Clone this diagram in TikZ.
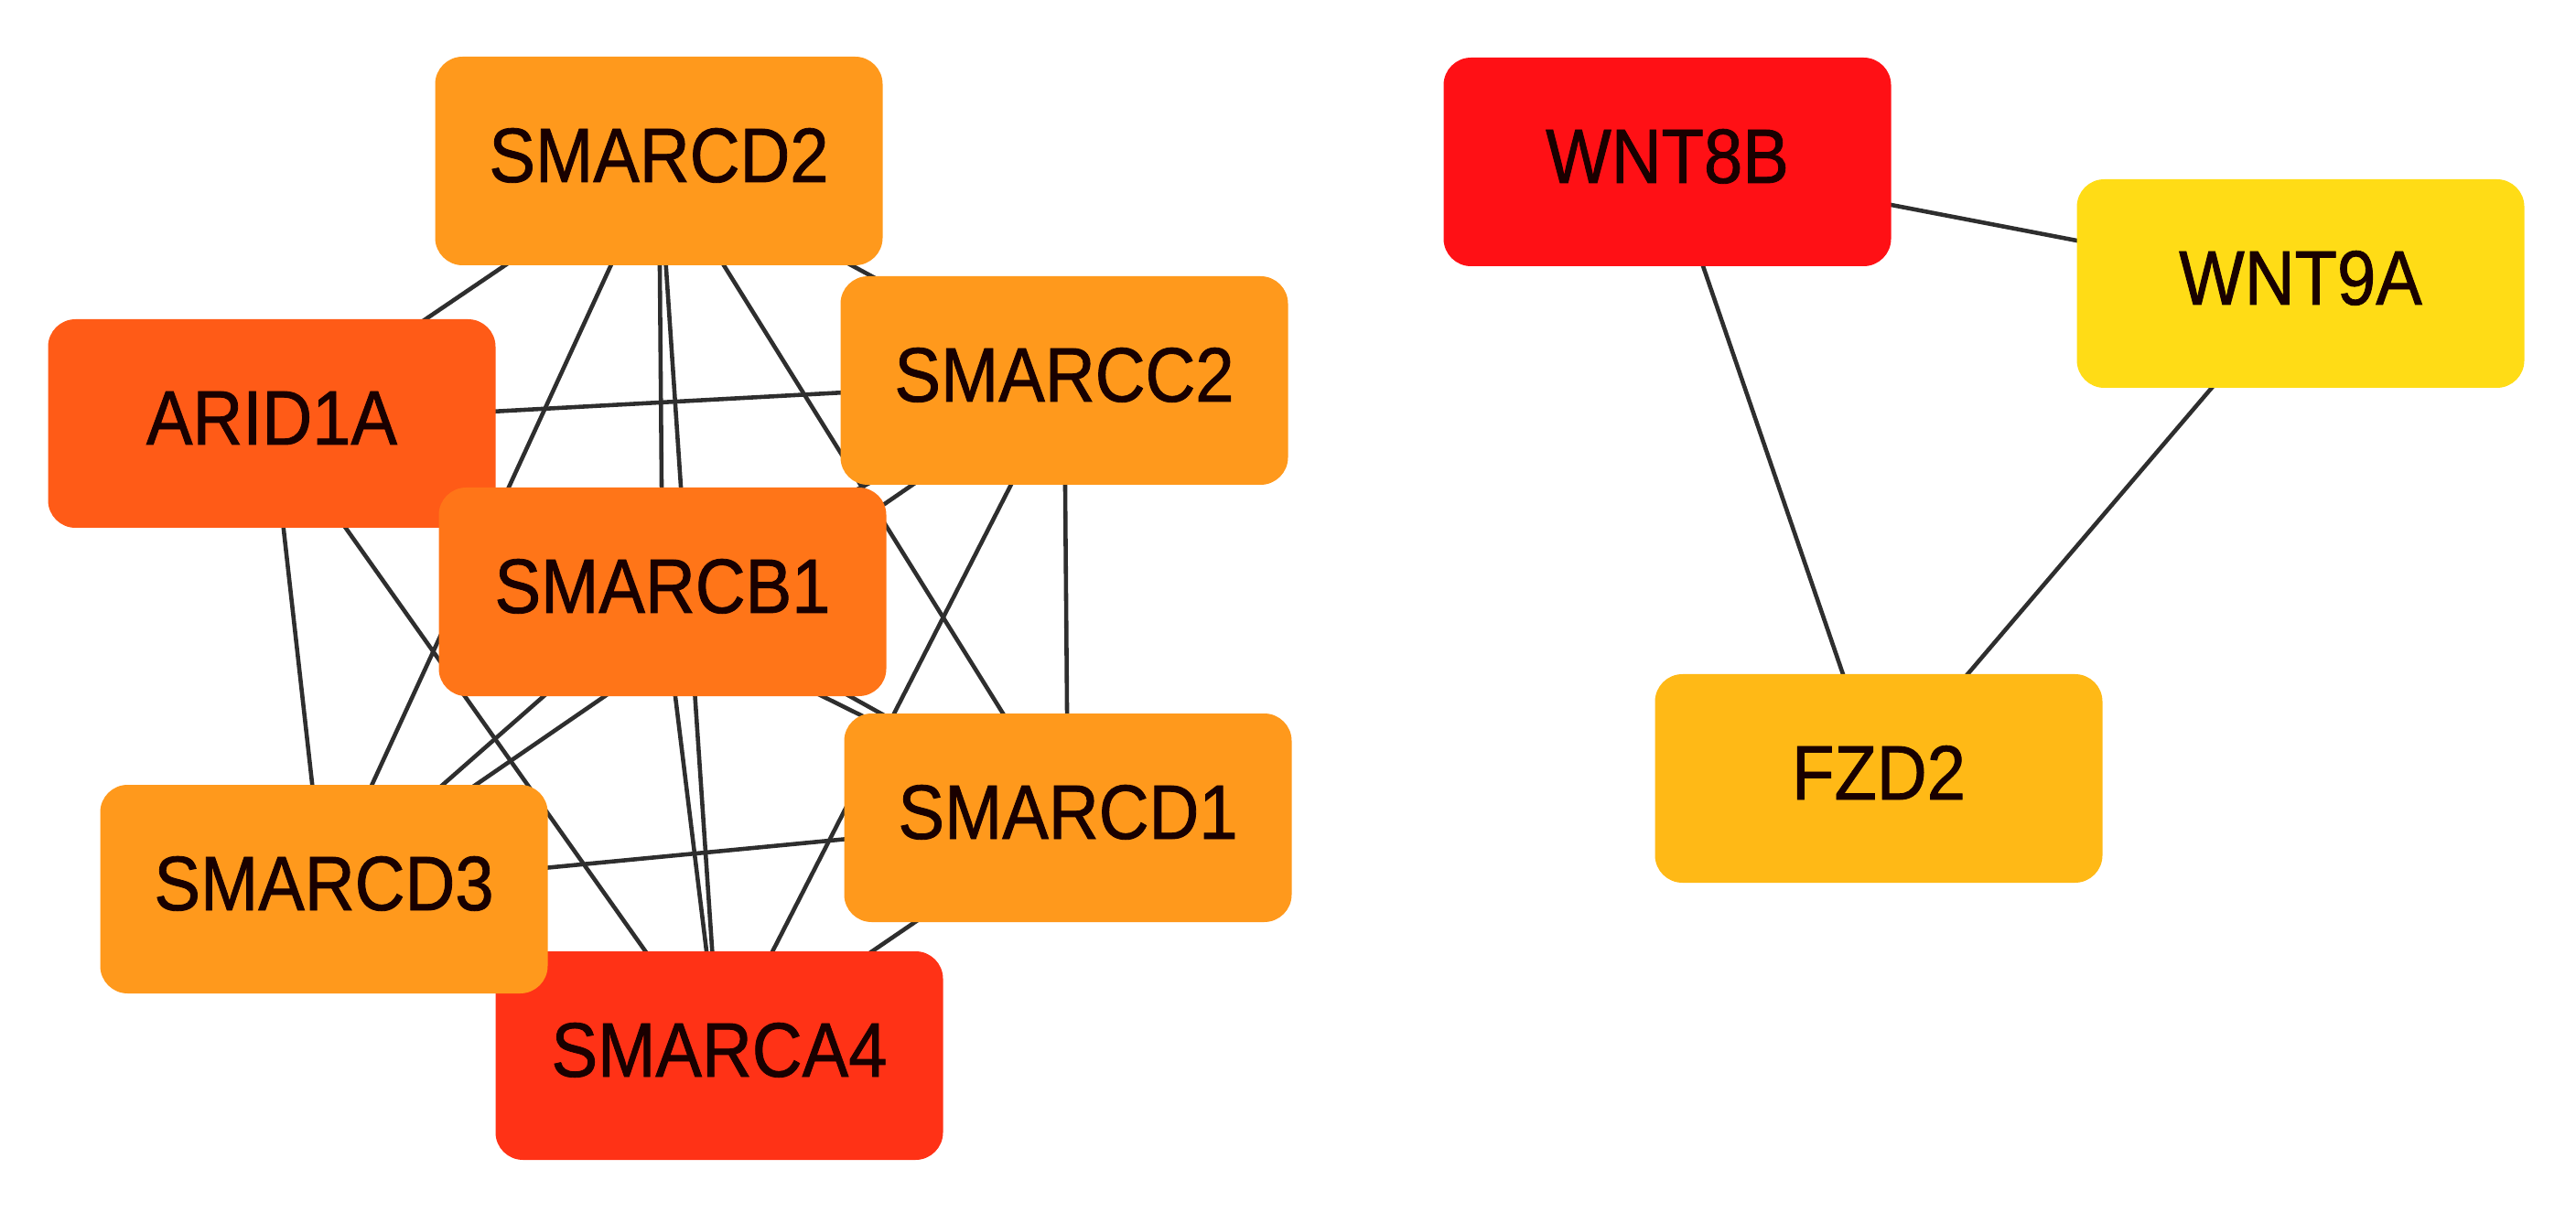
\documentclass[tikz,border=0pt]{standalone}
\usepackage{fontspec}
\setmainfont{Liberation Sans}
\newfontfamily\genefont[FakeStretch=0.9, FakeBold=1]{Liberation Sans}
\usetikzlibrary{backgrounds}
\definecolor{GeneOrange}{HTML}{FF991C}
\definecolor{GeneAmber}{HTML}{FFB916}
\definecolor{GeneYellow}{HTML}{FFDC16}
\definecolor{GeneRust}{HTML}{FF5B17}
\definecolor{GeneTangerine}{HTML}{FF7518}
\definecolor{GeneScarlet}{HTML}{FF3216}
\definecolor{GeneRed}{HTML}{FF1015}
\definecolor{LinkGrey}{HTML}{2E2E2E}
\tikzset{
  gene/.style={rounded corners=0.3cm, minimum width=4.89cm, minimum height=2.28cm,
    inner sep=0pt, text height=0.6cm, text depth=0.14cm, text=black!90!red,
    font=\genefont\fontsize{24}{28}\selectfont},
  link/.style={draw=LinkGrey, line width=1.3pt}
}

\begin{document}
\begin{tikzpicture}

\useasboundingbox (0,0) rectangle (28.15,13.36);

% SWI/SNF cluster
\node[gene, fill=GeneOrange] (SMARCD2) at (7.20,11.60) {SMARCD2};
\node[gene, fill=GeneRust] (ARID1A) at (2.97,8.73) {ARID1A};
\node[gene, fill=GeneOrange] (SMARCC2) at (11.63,9.20) {SMARCC2};
\node[gene, fill=GeneTangerine] (SMARCB1) at (7.24,6.89) {SMARCB1};
\node[gene, fill=GeneOrange] (SMARCD1) at (11.67,4.42) {SMARCD1};
\node[gene, fill=GeneScarlet] (SMARCA4) at (7.86,1.82) {SMARCA4};
\node[gene, fill=GeneOrange] (SMARCD3) at (3.54,3.64) {SMARCD3};

% WNT cluster
\node[gene, fill=GeneRed] (WNT8B) at (18.22,11.59) {WNT8B};
\node[gene, fill=GeneYellow] (WNT9A) at (25.14,10.26) {WNT9A};
\node[gene, fill=GeneAmber] (FZD2) at (20.53,4.85) {FZD2};

% Edges, centre to centre, under the boxes
\begin{scope}[on background layer]
  \foreach \a/\b in {SMARCD2/ARID1A, SMARCD2/SMARCC2, SMARCD2/SMARCB1,
      SMARCD2/SMARCD1, SMARCD2/SMARCD3, SMARCD2/SMARCA4,
      ARID1A/SMARCC2, ARID1A/SMARCB1, ARID1A/SMARCD1, ARID1A/SMARCD3, ARID1A/SMARCA4,
      SMARCC2/SMARCB1, SMARCC2/SMARCD1, SMARCC2/SMARCD3, SMARCC2/SMARCA4,
      SMARCB1/SMARCD1, SMARCB1/SMARCD3, SMARCB1/SMARCA4,
      SMARCD1/SMARCD3, SMARCD1/SMARCA4, SMARCD3/SMARCA4,
      WNT8B/WNT9A, WNT8B/FZD2, WNT9A/FZD2}
    \draw[link] (\a.center) -- (\b.center);
\end{scope}

\end{tikzpicture}
\end{document}
